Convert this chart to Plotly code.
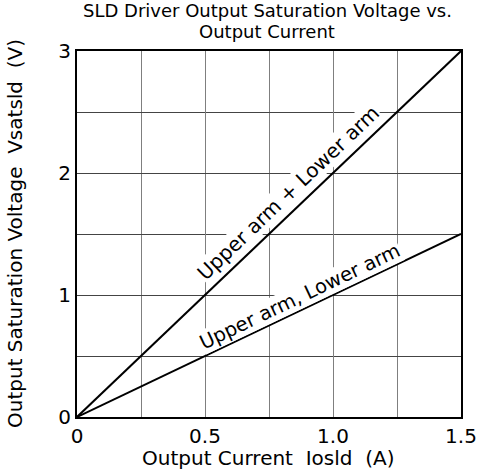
import plotly.graph_objects as go

x_current = [0, 1.5]
y_both_arms = [0, 3.0]
y_single_arm = [0, 1.5]
x_ticks = [0, 0.5, 1.0, 1.5]
x_tick_labels = ["0", "0.5", "1.0", "1.5"]
y_ticks = [0, 1, 2, 3]
y_tick_labels = ["0", "1", "2", "3"]
label_both = "Upper arm + Lower arm"
label_single = "Upper arm, Lower arm"
title_line1 = "SLD Driver Output Saturation Voltage vs."
title_line2 = "Output Current"
x_title = "Output Current  Iosld  (A)"
y_title = "Output Saturation Voltage  Vsatsld  (V)"

FONT = "DejaVu Sans, sans-serif"
FS = 20

fig = go.Figure()
fig.add_trace(go.Scatter(x=x_current, y=y_both_arms, mode="lines",
                         line=dict(color="black", width=2), showlegend=False))
fig.add_trace(go.Scatter(x=x_current, y=y_single_arm, mode="lines",
                         line=dict(color="black", width=2), showlegend=False))

fig.add_annotation(x=0.824, y=1.84, text=label_both, showarrow=False,
                   textangle=-43.6, bgcolor="white", borderpad=0,
                   font=dict(size=FS, color="black", family=FONT))
fig.add_annotation(x=0.871, y=0.99, text=label_single, showarrow=False,
                   textangle=-25.5, bgcolor="white", borderpad=0,
                   font=dict(size=FS - 0.5, color="black", family=FONT))

# titles as annotations in paper coordinates
fig.add_annotation(xref="paper", yref="paper", x=0.495, y=1.0, yshift=41, borderpad=0,
                   xanchor="center", yanchor="middle", text=title_line1, showarrow=False,
                   font=dict(size=18, family=FONT, color="black"))
fig.add_annotation(xref="paper", yref="paper", x=0.495, y=1.0, yshift=20, borderpad=0,
                   xanchor="center", yanchor="middle", text=title_line2, showarrow=False,
                   font=dict(size=18, family=FONT, color="black"))
fig.add_annotation(xref="paper", yref="paper", x=0.497, y=0.0, yshift=-41,
                   xanchor="center", yanchor="middle", text=x_title, showarrow=False,
                   font=dict(size=FS, family=FONT, color="black"))
fig.add_annotation(xref="paper", yref="paper", x=0.0, y=0.5, xshift=-62, yshift=0,
                   xanchor="center", yanchor="middle", text=y_title, showarrow=False,
                   textangle=-90, font=dict(size=FS, family=FONT, color="black"))

fig.update_layout(
    width=479, height=475,
    margin=dict(l=77, r=18, t=51, b=58),
    paper_bgcolor="white", plot_bgcolor="white",
    font=dict(family=FONT, size=FS, color="black"),
    xaxis=dict(range=[0, 1.5], tickvals=x_ticks, ticktext=x_tick_labels,
               automargin=False, zeroline=False,
               showline=True, linecolor="black", linewidth=2, mirror=True,
               ticks="", ticklabelstandoff=0,
               showgrid=True, gridcolor="#7f7f7f", gridwidth=1,
               minor=dict(tickvals=[0.25, 0.75, 1.25], showgrid=True, gridcolor="#7f7f7f", gridwidth=1),
               tickfont=dict(size=FS, family=FONT)),
    yaxis=dict(range=[0, 3], tickvals=y_ticks, ticktext=y_tick_labels,
               automargin=False, zeroline=False,
               showline=True, linecolor="black", linewidth=2, mirror=True,
               ticks="", ticklabelstandoff=0,
               showgrid=True, gridcolor="#444444", gridwidth=1,
               minor=dict(tickvals=[0.5, 1.5, 2.5], showgrid=True, gridcolor="#444444", gridwidth=1),
               tickfont=dict(size=FS, family=FONT)),
)

fig.write_html("out.html", config={"displayModeBar": False},
               post_script="document.body.style.margin='0';")
